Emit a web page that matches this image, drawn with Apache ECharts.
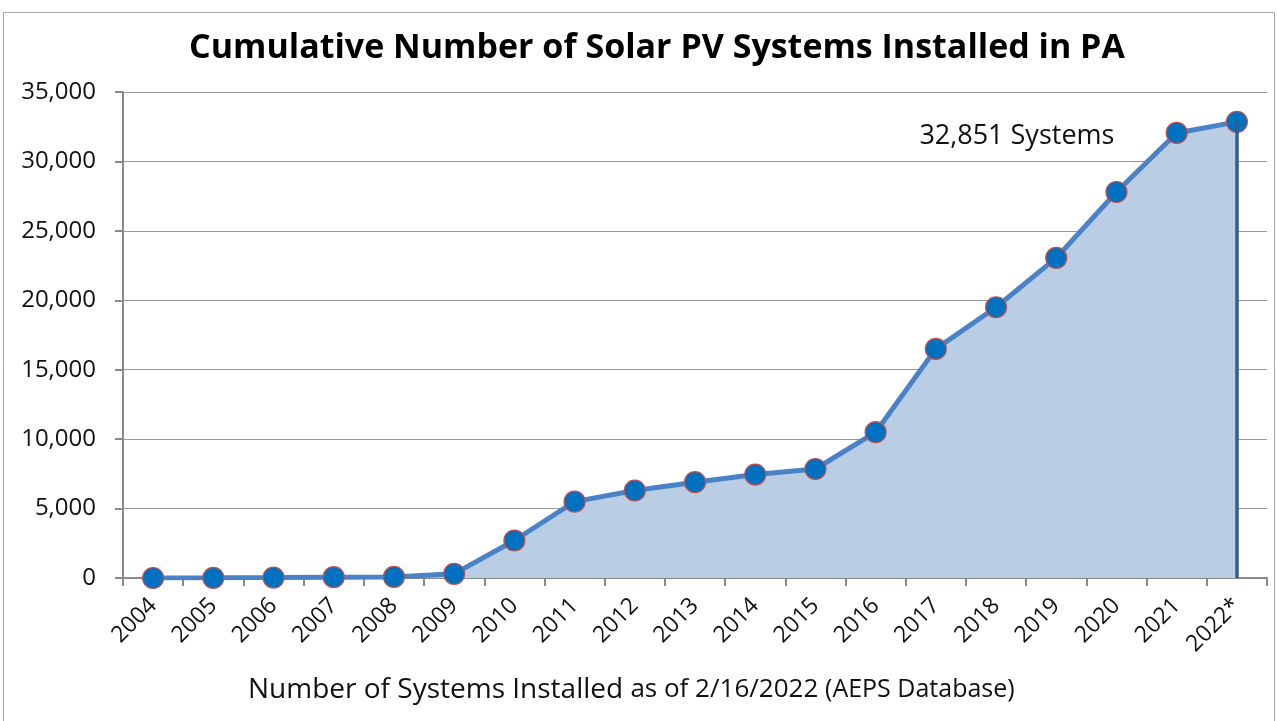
<!DOCTYPE html>
<html>
<head>
<meta charset="utf-8">
<script src="https://cdn.jsdelivr.net/npm/echarts@6/dist/echarts.min.js"></script>
<style type="text/css">
html, body { margin:0; padding:0; background:#fff; }
#chart { width:1277px; height:721px; }
</style>
</head>
<body>
<div id="chart"></div>
<script type="text/javascript">
// categories + cumulative counts
var years = ['2004','2005','2006','2007','2008','2009','2010','2011','2012','2013',
             '2014','2015','2016','2017','2018','2019','2020','2021','2022*'];
var systems = [0, 10, 30, 60, 80, 300, 2700, 5500, 6300, 6900,
               7450, 7850, 10500, 16500, 19500, 23050, 27800, 32050, 32851];
var yMin = 0, yMax = 35000, yStep = 5000;
var noteText = '32,851 Systems';

var font = '"Open Sans", "Noto Sans", sans-serif';
var last = years.length - 1;

var myChart = echarts.init(document.getElementById('chart'));
var option = {
    animation: false,
    textStyle: { fontFamily: font },
    title: {
        text: 'Cumulative Number of Solar PV Systems Installed in PA',
        left: 652,
        textAlign: 'center',
        top: 26,
        textStyle: { fontSize: 34, fontWeight: 'bold', color: '#000', fontFamily: font }
    },
    graphic: [{
        type: 'rect',
        shape: { x: 3.5, y: 12.5, width: 1271, height: 720 },
        style: { fill: 'none', stroke: '#a6a6a6', lineWidth: 1 },
        silent: true
    }, {
        // axis title sits left of the plot centre in the original
        type: 'text',
        left: 248,
        top: 676,
        silent: true,
        style: {
            text: '{a|Number of Systems Installed }{b|as of 2/16/2022 }{c|(AEPS Database)}',
            rich: {
                a: { fontSize: 28, fill: '#111', fontFamily: font },
                b: { fontSize: 26, fill: '#111', fontFamily: font },
                c: { fontSize: 25, fill: '#111', fontFamily: font }
            }
        }
    }],
    grid: { left: 123, right: 10, top: 92, bottom: 143 },
    xAxis: {
        type: 'category',
        data: years,
        boundaryGap: true,
        axisLine: { lineStyle: { color: '#898989', width: 2 } },
        axisTick: { show: true, length: 8, lineStyle: { color: '#898989', width: 2 } },
        axisLabel: { rotate: 45, fontSize: 23, color: '#111', margin: 24, interval: 0 }
    },
    yAxis: {
        type: 'value',
        min: yMin,
        max: yMax,
        interval: yStep,
        axisLine: { show: true, lineStyle: { color: '#898989', width: 2 } },
        axisTick: { show: true, length: 8, lineStyle: { color: '#898989', width: 2 } },
        axisLabel: {
            fontSize: 24, color: '#111', margin: 27,
            formatter: function (v) { return v.toLocaleString('en-US'); }
        },
        splitLine: { lineStyle: { color: '#999', width: 1 } }
    },
    series: [{
        type: 'line',
        data: systems,
        symbol: 'circle',
        symbolSize: 21,
        itemStyle: { color: '#0070c0', borderColor: '#c0504d', borderWidth: 1.2 },
        lineStyle: { color: '#4a82c8', width: 5 },
        areaStyle: { color: '#b9cde5', opacity: 1 },
        z: 3,
        markLine: {
            symbol: 'none',
            silent: true,
            lineStyle: { color: '#2f5d93', width: 3.5, type: 'solid' },
            label: { show: false },
            data: [[ { coord: [years[last], 0] }, { coord: [years[last], systems[last]] } ]]
        },
        markPoint: {
            symbol: 'circle',
            symbolSize: 0,
            silent: true,
            label: {
                show: true,
                formatter: noteText,
                fontSize: 27,
                color: '#111',
                fontFamily: font,
                offset: [-220, 14]
            },
            data: [{ coord: [years[last], systems[last]] }]
        }
    }]
};
myChart.setOption(option);
</script>
</body>
</html>
